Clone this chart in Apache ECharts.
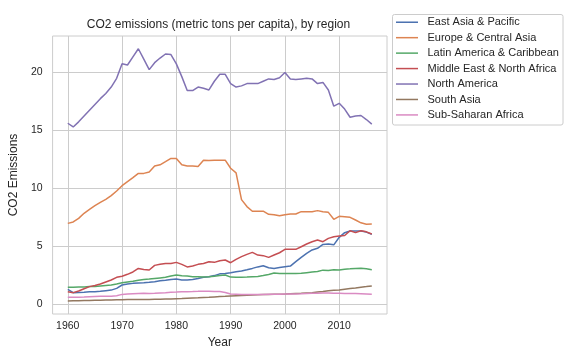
<!DOCTYPE html>
<html>
<head>
<meta charset="utf-8">
<script src="https://cdn.jsdelivr.net/npm/echarts@6/dist/echarts.min.js"></script>
<style>
  html, body { margin: 0; padding: 0; background: #ffffff; }
  #chart { width: 576px; height: 360px; }
</style>
</head>
<body>
<div id="chart"></div>
<script>
// ---- Data ----
const years = [];
for (let y = 1960; y <= 2016; y++) years.push(y);

const regions = [
  'East Asia & Pacific',
  'Europe & Central Asia',
  'Latin America & Caribbean',
  'Middle East & North Africa',
  'North America',
  'South Asia',
  'Sub-Saharan Africa'
];

const eastAsiaPacific = [
  1.26, 0.98, 1.0, 1.02, 1.06, 1.06, 1.1, 1.15, 1.2, 1.35,
  1.64, 1.72, 1.78, 1.82, 1.84, 1.87, 1.92, 2.0, 2.05, 2.12,
  2.15, 2.07, 2.07, 2.12, 2.2, 2.3, 2.35, 2.45, 2.6, 2.64,
  2.7, 2.78, 2.84, 2.95, 3.07, 3.2, 3.3, 3.13, 3.07, 3.15,
  3.22, 3.27, 3.65, 4.02, 4.37, 4.66, 4.8, 5.14, 5.17, 5.1,
  5.75, 6.15, 6.3, 6.3, 6.3, 6.2, 6.0
];
const europeCentralAsia = [
  6.95, 7.07, 7.38, 7.82, 8.16, 8.48, 8.76, 9.02, 9.34, 9.74,
  10.2, 10.55, 10.9, 11.26, 11.26, 11.38, 11.9, 12.0, 12.27, 12.55,
  12.55, 12.0, 11.9, 11.9, 11.85, 12.4, 12.38, 12.4, 12.4, 12.4,
  11.7, 11.3, 9.0, 8.4, 8.0, 8.0, 8.0, 7.73, 7.7, 7.6,
  7.7, 7.76, 7.76, 7.96, 7.96, 7.96, 8.05, 7.96, 7.9, 7.3,
  7.56, 7.53, 7.47, 7.24, 7.0, 6.87, 6.9
];
const latinAmericaCaribbean = [
  1.44, 1.45, 1.47, 1.47, 1.5, 1.52, 1.56, 1.6, 1.64, 1.72,
  1.84, 1.9, 1.96, 2.05, 2.12, 2.15, 2.2, 2.25, 2.3, 2.42,
  2.5, 2.44, 2.41, 2.36, 2.35, 2.33, 2.35, 2.4, 2.45, 2.5,
  2.32, 2.3, 2.3, 2.32, 2.35, 2.38, 2.45, 2.55, 2.68, 2.64,
  2.62, 2.64, 2.63, 2.65, 2.7, 2.75, 2.8, 2.92, 2.88, 2.95,
  2.93, 3.0, 3.03, 3.07, 3.08, 3.04, 2.95
];
const middleEastNorthAfrica = [
  1.06, 0.98, 1.12, 1.32, 1.5, 1.6, 1.72, 1.9, 2.07, 2.3,
  2.4, 2.56, 2.76, 3.07, 2.98, 2.93, 3.33, 3.42, 3.5, 3.5,
  3.59, 3.42, 3.2, 3.27, 3.42, 3.5, 3.65, 3.59, 3.73, 3.79,
  3.56, 3.85, 4.08, 4.28, 4.45, 4.22, 4.17, 4.02, 4.22, 4.42,
  4.71, 4.71, 4.71, 4.94, 5.17, 5.37, 5.52, 5.37, 5.66, 5.8,
  5.86, 5.9, 6.32, 6.15, 6.32, 6.22, 6.03
];
const northAmerica = [
  15.58, 15.26, 15.7, 16.2, 16.7, 17.2, 17.7, 18.15, 18.7, 19.45,
  20.7, 20.6, 21.3, 22.0, 21.1, 20.2, 20.8, 21.2, 21.55, 21.5,
  20.7, 19.6, 18.4, 18.4, 18.7, 18.6, 18.45, 19.2, 19.8, 19.8,
  19.0, 18.7, 18.8, 19.0, 19.0, 19.0, 19.2, 19.4, 19.35, 19.5,
  19.95, 19.4, 19.35, 19.4, 19.45, 19.4, 19.0, 19.1, 18.45, 17.05,
  17.3, 16.8, 16.1, 16.2, 16.25, 15.9, 15.5
];
const southAsia = [
  0.27, 0.28, 0.29, 0.3, 0.31, 0.32, 0.33, 0.34, 0.35, 0.36,
  0.37, 0.38, 0.38, 0.39, 0.39, 0.40, 0.41, 0.42, 0.43, 0.44,
  0.46, 0.47, 0.49, 0.51, 0.53, 0.56, 0.58, 0.61, 0.64, 0.66,
  0.69, 0.71, 0.73, 0.75, 0.77, 0.79, 0.81, 0.82, 0.84, 0.85,
  0.86, 0.88, 0.9, 0.92, 0.95, 0.98, 1.03, 1.08, 1.15, 1.18,
  1.2, 1.28, 1.33, 1.38, 1.45, 1.5, 1.56
];
const subSaharanAfrica = [
  0.58, 0.58, 0.59, 0.6, 0.62, 0.64, 0.66, 0.67, 0.68, 0.72,
  0.83, 0.86, 0.88, 0.9, 0.92, 0.9, 0.92, 0.95, 0.98, 1.02,
  1.03, 1.05, 1.06, 1.07, 1.09, 1.1, 1.1, 1.08, 1.07, 1.0,
  0.86, 0.85, 0.83, 0.83, 0.82, 0.82, 0.83, 0.84, 0.85, 0.85,
  0.86, 0.87, 0.87, 0.88, 0.9, 0.92, 0.93, 0.94, 0.95, 0.93,
  0.92, 0.91, 0.9, 0.9, 0.88, 0.86, 0.84
];

const seriesValues = [
  eastAsiaPacific, europeCentralAsia, latinAmericaCaribbean,
  middleEastNorthAfrica, northAmerica, southAsia, subSaharanAfrica
];

const xTicks = [1960, 1970, 1980, 1990, 2000, 2010];
const yTicks = [0, 5, 10, 15, 20];

// ---- Styling ----
const colors = ['#4c72b0', '#dd8452', '#55a868', '#c44e52', '#8172b3', '#937860', '#da8bc3'];
const FONT = "'Liberation Sans', Arial, sans-serif";
const TXT = '#262626';
const GRIDC = '#cccccc';

const chart = echarts.init(document.getElementById('chart'), null, { renderer: 'canvas' });

const series = regions.map((name, i) => ({
  name: name,
  type: 'line',
  data: years.map((y, k) => [y, seriesValues[i][k]]),
  showSymbol: false,
  symbol: 'none',
  lineStyle: { width: 1.5, color: colors[i] },
  itemStyle: { color: colors[i] },
  emphasis: { disabled: true },
  animation: false
}));

const option = {
  backgroundColor: '#ffffff',
  animation: false,
  color: colors,
  title: {
    text: 'CO2 emissions (metric tons per capita), by region',
    left: 218.5,
    top: 19,
    padding: 0,
    textAlign: 'center',
    textStyle: { fontFamily: FONT, fontSize: 12, fontWeight: 'normal', color: TXT }
  },
  graphic: [{
    type: 'rect',
    shape: { x: 392.5, y: 14.5, width: 170.5, height: 110.5, r: 2 },
    style: { fill: 'rgba(255,255,255,0.8)', stroke: GRIDC, lineWidth: 1 },
    z: 5
  }],
  legend: {
    orient: 'vertical',
    left: 396,
    top: 14.5,
    padding: 0,
    itemGap: 0,
    itemWidth: 22,
    itemHeight: 1.5,
    icon: 'rect',
    data: regions,
    z: 10,
    textStyle: {
      fontFamily: FONT, fontSize: 11, color: TXT,
      lineHeight: 15.45, padding: [0, 0, 0, 4.5]
    }
  },
  grid: {
    left: 50, top: 36, width: 337, height: 278,
    show: true, borderColor: GRIDC, borderWidth: 1, backgroundColor: 'transparent'
  },
  xAxis: {
    type: 'value',
    min: 1957.2,
    max: 2018.8,
    name: 'Year',
    nameLocation: 'middle',
    nameGap: 21,
    nameTextStyle: { fontFamily: FONT, fontSize: 12, color: TXT },
    axisLine: { show: false },
    axisTick: { show: false, customValues: xTicks },
    axisLabel: {
      customValues: xTicks,
      fontFamily: FONT, fontSize: 10.5, color: TXT, margin: 7,
      formatter: v => String(v)
    },
    splitLine: { show: true, lineStyle: { color: GRIDC, width: 1 } }
  },
  yAxis: {
    type: 'value',
    min: -0.86,
    max: 23.1,
    name: 'CO2 Emissions',
    nameLocation: 'middle',
    nameGap: 25.5,
    nameTextStyle: { fontFamily: FONT, fontSize: 12, color: TXT },
    axisLine: { show: false },
    axisTick: { show: false, customValues: yTicks },
    axisLabel: {
      customValues: yTicks,
      fontFamily: FONT, fontSize: 10.5, color: TXT, margin: 10,
      formatter: v => String(v)
    },
    splitLine: { show: true, lineStyle: { color: GRIDC, width: 1 } }
  },
  series: series
};

chart.setOption(option);
</script>
</body>
</html>
